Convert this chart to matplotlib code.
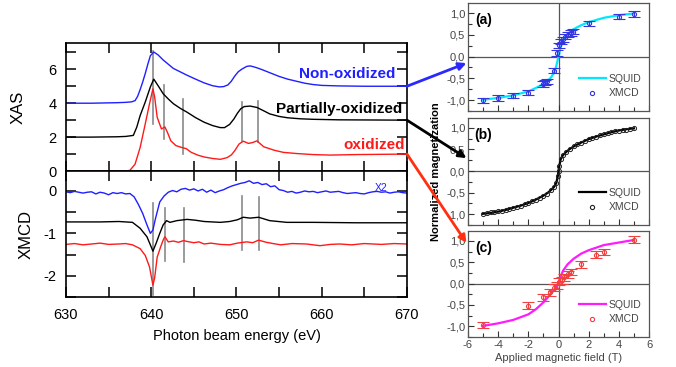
import matplotlib
matplotlib.use("Agg")
import matplotlib.pyplot as plt
from matplotlib.ticker import MultipleLocator, FuncFormatter
from matplotlib.patches import ConnectionPatch

plt.rcParams['font.family'] = ['Liberation Sans', 'DejaVu Sans']
plt.rcParams['axes.unicode_minus'] = False

# ---------------- XAS spectra (energy eV, intensity) ----------------
xas_non = [(630, 4.0), (633, 4.0), (636, 4.03), (637, 4.05), (637.7, 4.08), (638.1, 4.15),
           (638.4, 4.4), (638.7, 4.8), (639, 5.25), (639.3, 5.75), (639.6, 6.3), (639.9, 6.8),
           (640.3, 7.02), (640.8, 6.85), (641.4, 6.55), (642, 6.3), (642.6, 6.05), (643.4, 5.85),
           (644.2, 5.65), (645.2, 5.42), (646.2, 5.2), (647.2, 5.03), (648, 4.96), (648.5, 4.98),
           (649, 5.08), (649.4, 5.3), (649.8, 5.6), (650.2, 5.85), (650.6, 6.0), (651.2, 6.17),
           (651.6, 6.2), (652, 6.15), (652.5, 6.07), (653, 5.98), (654, 5.78), (655, 5.58),
           (656, 5.42), (657, 5.3), (658, 5.18), (659, 5.1), (660, 5.05), (662, 5.02), (665, 5.0),
           (670, 5.0)]
xas_part = [(630, 2.0), (633, 2.0), (636, 2.02), (637, 2.04), (637.9, 2.1), (638.3, 2.58),
            (638.7, 3.27), (639.3, 4.07), (639.9, 4.96), (640.3, 5.42), (640.9, 4.96),
            (641.4, 4.56), (642, 4.25), (642.6, 3.97), (643.4, 3.7), (644.2, 3.47), (645.2, 3.15),
            (646.2, 2.88), (647.2, 2.68), (648.1, 2.56), (648.6, 2.56), (649.2, 2.75),
            (649.7, 3.07), (650.1, 3.4), (650.5, 3.67), (650.9, 3.8), (651.6, 3.83), (652.4, 3.75),
            (653.2, 3.55), (653.9, 3.37), (655, 3.22), (656, 3.14), (657.5, 3.08), (659, 3.05),
            (662, 3.02), (670, 3.0)]
xas_ox = [(630, 0.0), (637, 0.0), (637.5, 0.04), (638.1, 0.4), (638.7, 1.39), (639.3, 2.78),
          (639.8, 3.97), (640.2, 4.85), (640.4, 4.37), (640.7, 3.17), (641.2, 2.48),
          (641.6, 2.6), (641.9, 2.28), (642.3, 1.78), (642.9, 1.5), (643.5, 1.4), (644.1, 1.32),
          (644.7, 1.1), (645.5, 0.93), (646.2, 0.83), (647.2, 0.74), (648.1, 0.69), (648.9, 0.79),
          (649.4, 0.95), (649.8, 1.2), (650.3, 1.59), (650.8, 1.76), (651.4, 1.63), (651.9, 1.68),
          (652.4, 1.78), (653.2, 1.43), (654.4, 1.23), (655.5, 1.1), (657.1, 1.03), (659, 0.97),
          (661, 0.94), (664, 0.97), (670, 1.0)]

# gray marker lines: energy, low, high
xas_mark_E = [640.2, 641.5, 643.7, 650.7, 652.5]
xas_mark_lo = [2.8, 1.9, 1.0, 1.78, 1.69]
xas_mark_hi = [7.1, 5.06, 4.27, 4.07, 4.12]

# ---------------- XMCD spectra ----------------
xmcd_non = [(630, -0.02), (630.5, -0.04), (631, -0.01), (631.5, -0.03), (632, -0.05), (632.5, -0.03),
            (633, -0.02), (633.5, -0.07), (634, -0.03), (634.5, -0.05), (635, -0.09), (635.5, -0.04),
            (636, -0.06), (636.5, -0.04), (637, -0.07), (637.5, -0.06), (638, -0.14), (638.5, -0.32),
            (639, -0.53), (639.5, -0.8), (639.9, -1.0), (640.2, -0.92), (640.5, -0.65), (641, -0.26),
            (641.5, -0.12), (642, -0.03), (642.5, 0.01), (643, -0.02), (643.5, 0.04), (644, 0.06),
            (644.5, 0.02), (645, 0.05), (645.5, 0.0), (646, 0.04), (646.5, -0.03), (647, 0.02),
            (647.5, -0.04), (648, 0.0), (648.5, 0.03), (649, 0.08), (649.5, 0.12), (650, 0.15),
            (650.5, 0.18), (651, 0.2), (651.5, 0.24), (652, 0.18), (652.5, 0.2), (653, 0.15),
            (653.5, 0.17), (654, 0.1), (654.5, 0.12), (655, 0.03), (655.5, 0.01), (656, -0.03),
            (656.5, -0.01), (657, -0.05), (657.5, -0.03), (658, 0.0), (658.5, -0.02), (659, -0.01),
            (659.5, -0.04), (660, -0.02), (660.5, 0.0), (661, -0.03), (661.5, -0.02), (662, -0.01),
            (662.5, -0.04), (663, -0.06), (663.5, -0.05), (664, -0.04), (664.5, -0.06), (665, -0.07),
            (665.5, -0.04), (666, -0.02), (666.5, -0.01), (667, -0.03), (667.5, -0.02), (668, -0.05),
            (668.5, -0.03), (669, -0.02), (669.5, -0.04), (670, -0.05)]
xmcd_part = [(630, -0.73), (634, -0.73), (636.2, -0.72), (637.8, -0.74), (638.7, -0.88),
             (639.5, -1.08), (640, -1.32), (640.2, -1.42), (640.6, -1.22), (641, -1.0),
             (641.4, -0.8), (641.8, -0.7), (642.2, -0.74), (643, -0.7), (644.2, -0.67),
             (645.2, -0.69), (646.2, -0.72), (648.1, -0.74), (649.2, -0.72), (650.1, -0.68),
             (650.8, -0.62), (651.6, -0.64), (652.6, -0.62), (653.9, -0.7), (655.9, -0.74),
             (659, -0.74), (664, -0.75), (670, -0.75)]
xmcd_ox = [(630, -1.26), (631, -1.24), (632, -1.27), (633, -1.25), (634, -1.23), (635, -1.26),
           (636.2, -1.25), (637, -1.24), (637.8, -1.27), (638.7, -1.36), (639.3, -1.52),
           (639.8, -1.79), (640.2, -2.22), (640.4, -2.05), (640.7, -1.56), (641.1, -1.32),
           (641.4, -1.16), (641.6, -1.08), (642, -1.2), (642.6, -1.18), (643.2, -1.21),
           (643.8, -1.17), (644.2, -1.19), (645, -1.22), (645.6, -1.2), (646.2, -1.25),
           (647, -1.23), (648.1, -1.26), (649.2, -1.27), (650.1, -1.23), (651.2, -1.2),
           (651.9, -1.22), (652.6, -1.16), (653.5, -1.21), (654.3, -1.24), (655.2, -1.27),
           (656.5, -1.24), (658.2, -1.25), (659.8, -1.29), (661, -1.26), (662.1, -1.25),
           (663.5, -1.27), (665, -1.24), (667, -1.26), (668.5, -1.24), (670, -1.25)]

xmcd_mark_E = [640.2, 641.65, 643.8, 650.7, 652.6]
xmcd_mark_lo = [-2.45, -1.65, -1.67, -1.39, -1.4]
xmcd_mark_hi = [-0.29, -0.4, -0.4, -0.13, -0.15]

# ---------------- magnetization loops ----------------
squid_a = [(-5, -0.99), (-4, -0.95), (-3, -0.89), (-2, -0.8), (-1.5, -0.72), (-1, -0.63),
           (-0.7, -0.55), (-0.5, -0.48), (-0.3, -0.37), (-0.15, -0.22), (0, 0), (0.15, 0.22),
           (0.3, 0.37), (0.5, 0.48), (0.7, 0.55), (1, 0.63), (1.5, 0.72), (2, 0.79), (3, 0.89),
           (4, 0.95), (5, 0.99)]
xmcd_a = [(-5.0, -1.0), (-4.0, -0.95), (-3.0, -0.9), (-2.0, -0.83), (-1.05, -0.63), (-0.9, -0.6),
          (-0.75, -0.57), (-0.3, -0.32), (-0.1, 0.08), (0.05, 0.26), (0.16, 0.34), (0.27, 0.4),
          (0.45, 0.46), (0.6, 0.5), (0.8, 0.54), (0.93, 0.57), (2.0, 0.76), (4.0, 0.92), (5.0, 0.98)]
xmcd_a_err = 0.06

squid_b = [(-5, -0.99), (-4.5, -0.97), (-4, -0.94), (-3.5, -0.9), (-3, -0.85), (-2.5, -0.8),
           (-2, -0.74), (-1.5, -0.66), (-1, -0.57), (-0.7, -0.5), (-0.5, -0.44), (-0.3, -0.37),
           (-0.15, -0.28), (-0.05, -0.12), (0, 0), (0.05, 0.12), (0.15, 0.28), (0.3, 0.37),
           (0.5, 0.44), (0.7, 0.5), (1, 0.57), (1.5, 0.66), (2, 0.74), (2.5, 0.8), (3, 0.85),
           (3.5, 0.9), (4, 0.94), (4.5, 0.97), (5, 0.99)]
xmcd_b = [(-5, -0.99), (-4.75, -0.98), (-4.5, -0.96), (-4.25, -0.95), (-4, -0.93), (-3.75, -0.92),
          (-3.5, -0.9), (-3.25, -0.88), (-3, -0.85), (-2.75, -0.83), (-2.5, -0.8), (-2.25, -0.77),
          (-2, -0.74), (-1.75, -0.7), (-1.5, -0.66), (-1.25, -0.62), (-1, -0.57), (-0.75, -0.52),
          (-0.5, -0.45), (-0.3, -0.38), (-0.15, -0.28), (-0.05, -0.12), (0, 0.0), (0.05, 0.12),
          (0.15, 0.28), (0.3, 0.38), (0.5, 0.45), (0.75, 0.52), (1, 0.57), (1.25, 0.62),
          (1.5, 0.66), (1.75, 0.7), (2, 0.74), (2.25, 0.77), (2.5, 0.8), (2.75, 0.83), (3, 0.85),
          (3.25, 0.88), (3.5, 0.9), (3.75, 0.92), (4, 0.93), (4.25, 0.95), (4.5, 0.96),
          (4.75, 0.98), (5, 0.99)]

squid_c = [(-5, -0.99), (-4, -0.93), (-3, -0.85), (-2, -0.72), (-1.5, -0.6), (-1, -0.44),
           (-0.6, -0.28), (-0.3, -0.15), (-0.1, -0.05), (0, 0), (0.1, 0.12), (0.3, 0.3),
           (0.6, 0.45), (1, 0.58), (1.5, 0.7), (2, 0.78), (3, 0.9), (4, 0.96), (5, 1.02)]
xmcd_c = [(-5.0, -0.97), (-2.05, -0.52), (-1.05, -0.32), (-0.55, -0.2), (-0.27, -0.1),
          (-0.1, -0.05), (0.05, 0.04), (0.22, 0.08), (0.38, 0.15), (0.66, 0.22), (0.84, 0.27),
          (1.5, 0.45), (2.5, 0.68), (3.0, 0.74), (5.0, 1.03)]
xmcd_c_err = 0.08


def unzip(pairs):
    return [p[0] for p in pairs], [p[1] for p in pairs]


BLUE = '#1f1fff'
RED = '#ff1a1a'
GRAY = '#8a8a8a'

fig = plt.figure(figsize=(6.76, 3.67), dpi=100)

# ---------------- left: XAS ----------------
ax1 = fig.add_axes([0.0976, 0.534, 0.5044, 0.3488])
ax2 = fig.add_axes([0.0976, 0.1907, 0.5044, 0.3433])

for E, lo, hi in zip(xas_mark_E, xas_mark_lo, xas_mark_hi):
    ax1.plot([E, E], [lo, hi], color=GRAY, lw=1.2, zorder=1)
for data, c in [(xas_non, BLUE), (xas_part, 'black'), (xas_ox, RED)]:
    x, y = unzip(data)
    ax1.plot(x, y, color=c, lw=1.0, zorder=2)
ax1.set_xlim(630, 670)
ax1.set_ylim(0, 7.55)
ax1.yaxis.set_major_locator(MultipleLocator(2))
ax1.yaxis.set_minor_locator(MultipleLocator(1))
ax1.xaxis.set_major_locator(MultipleLocator(10))
ax1.xaxis.set_minor_locator(MultipleLocator(5))
ax1.set_xticklabels([])
ax1.set_ylabel('XAS', fontsize=12, labelpad=16)
ax1.text(668.7, 5.7, 'Non-oxidized', color=BLUE, fontsize=11, fontweight='bold', ha='right', va='center')
ax1.text(669.5, 3.65, 'Partially-oxidized', color='black', fontsize=11, fontweight='bold', ha='right', va='center')
ax1.text(669.8, 1.55, 'oxidized', color=RED, fontsize=11, fontweight='bold', ha='right', va='center')

for E, lo, hi in zip(xmcd_mark_E, xmcd_mark_lo, xmcd_mark_hi):
    ax2.plot([E, E], [lo, hi], color=GRAY, lw=1.2, zorder=1)
for data, c in [(xmcd_non, BLUE), (xmcd_part, 'black'), (xmcd_ox, RED)]:
    x, y = unzip(data)
    ax2.plot(x, y, color=c, lw=1.0, zorder=2)
ax2.set_xlim(630, 670)
ax2.set_ylim(-2.5, 0.47)
ax2.yaxis.set_major_locator(MultipleLocator(1))
ax2.yaxis.set_minor_locator(MultipleLocator(0.5))
ax2.xaxis.set_major_locator(MultipleLocator(10))
ax2.xaxis.set_minor_locator(MultipleLocator(5))
ax2.set_ylabel('XMCD', fontsize=12, labelpad=7)
ax2.set_xlabel('Photon beam energy (eV)', fontsize=10.5, labelpad=5)
ax2.text(667, 0.08, 'X2', color=BLUE, fontsize=7.5, ha='center', va='center')

for ax in (ax1, ax2):
    for s in ax.spines.values():
        s.set_linewidth(1.2)
    ax.tick_params(which='both', direction='in', top=True, right=True, labelsize=10.5,
                   width=1.1)
    ax.tick_params(which='major', length=7)
    ax.tick_params(which='minor', length=7)
    ax.tick_params(axis='y', pad=7)
    ax.tick_params(axis='x', pad=8)

# ---------------- right: magnetization ----------------
rx, rw = 0.6923, 0.2678
axa = fig.add_axes([rx, 0.6975, rw, 0.2943])
axb = fig.add_axes([rx, 0.3869, rw, 0.2916])
axc = fig.add_axes([rx, 0.0817, rw, 0.2889])

comma = FuncFormatter(lambda v, p: f"{v:.1f}".replace('.', ','))
panels = [
    (axa, squid_a, xmcd_a, xmcd_a_err, '#00e8ff', '#3535e0', '(a)'),
    (axb, squid_b, xmcd_b, None, 'black', '#222222', '(b)'),
    (axc, squid_c, xmcd_c, xmcd_c_err, '#ff1aff', '#f04040', '(c)'),
]
for ax, sq, xm, err, lc, mc, lab in panels:
    ax.axhline(0, color='#555555', lw=0.9, zorder=0)
    ax.axvline(0, color='#555555', lw=0.9, zorder=0)
    sx, sy = unzip(sq)
    ax.plot(sx, sy, color=lc, lw=1.6, zorder=2, label='SQUID')
    mx, my = unzip(xm)
    if err is not None:
        ax.errorbar(mx, my, yerr=err, fmt='o', ms=3, mfc='none', mec=mc, mew=0.8,
                    ecolor=mc, elinewidth=0.9, capsize=4, capthick=0.9, zorder=3)
    else:
        ax.plot(mx, my, 'o', ms=3, mfc='none', mec=mc, mew=0.7, zorder=3)
    ax.plot([], [], 'o', ms=3, mfc='none', mec=mc, mew=0.8, label='XMCD')
    ax.set_xlim(-6, 6)
    ax.set_ylim(-1.25, 1.23)
    ax.xaxis.set_major_locator(MultipleLocator(2))
    ax.xaxis.set_minor_locator(MultipleLocator(1))
    ax.yaxis.set_major_locator(MultipleLocator(0.5))
    ax.yaxis.set_minor_locator(MultipleLocator(0.25))
    ax.yaxis.set_major_formatter(comma)
    ax.tick_params(which='both', direction='in', labelsize=8, colors='#333333',
                   labelcolor='#444444', width=0.8, pad=2)
    ax.tick_params(which='major', length=4)
    ax.tick_params(which='minor', length=3)
    for s in ax.spines.values():
        s.set_color('#555555')
        s.set_linewidth(0.9)
    ax.text(0.085, 0.84, lab, transform=ax.transAxes, fontsize=10, fontweight='bold',
            ha='center', va='center')
    leg = ax.legend(loc='lower right', bbox_to_anchor=(1.0, 0.05), frameon=False, fontsize=7.5,
                    handlelength=2.6, handletextpad=0.3, labelspacing=0.45, borderaxespad=0.3)
    for t in leg.get_texts():
        t.set_color('#444444')
axa.set_xticklabels([])
axb.set_xticklabels([])
axc.set_xlabel('Applied magnetic field (T)', fontsize=8, color='#444444', labelpad=2)
axb.set_ylabel('Normalized magnetization', fontsize=8, fontweight='bold', labelpad=4)

# ---------------- arrows ----------------
for (yv, axt, tip, col) in [(5.0, axa, (-6.1, -0.15), '#2a2aff'),
                             (3.0, axb, (-6.1, 0.3), 'black'),
                             (1.0, axc, (-6.1, 0.95), '#ff3010')]:
    con = ConnectionPatch(xyA=(670, yv), coordsA=ax1.transData, xyB=tip, coordsB=axt.transData,
                          arrowstyle='-|>', mutation_scale=11, lw=2.0, color=col, zorder=10)
    fig.add_artist(con)

fig.savefig('out.png', dpi=100)
